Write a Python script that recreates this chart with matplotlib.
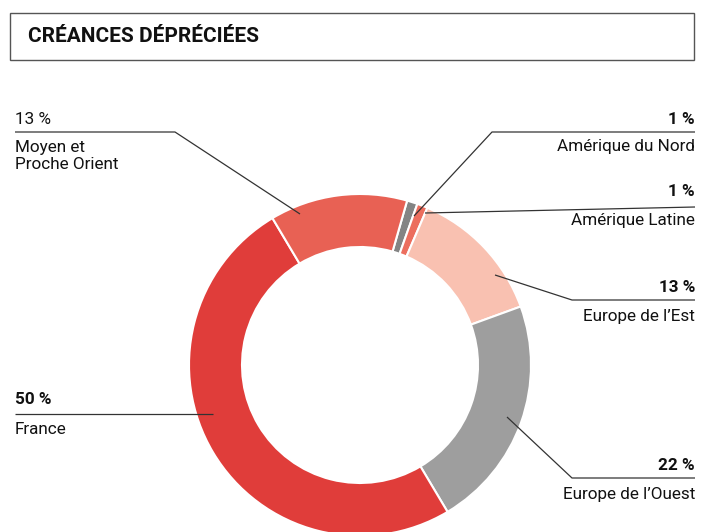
import matplotlib.pyplot as plt
from matplotlib.patches import Rectangle

W, H = 702, 532

regions = ['Amérique du Nord', 'Amérique Latine', 'Europe de l’Est',
           'Europe de l’Ouest', 'France', 'Moyen et\nProche Orient']
shares = [1, 1, 13, 22, 50, 13]
pct_labels = ['1 %', '1 %', '13 %', '22 %', '50 %', '13 %']
colors = ['#848484', '#ec6e5e', '#f9c1b1', '#9e9e9e', '#e03d3a', '#e86154']

plt.rcParams['font.family'] = ['Roboto', 'DejaVu Sans']


def Y(y):
    # pixel rows counted from the top
    return H - y


fig = plt.figure(figsize=(W / 100, H / 100), dpi=100)
ax = fig.add_axes([0, 0, 1, 1])

ax.pie(shares, colors=colors, startangle=74, counterclock=False,
       radius=171, center=(360, Y(365)), frame=True,
       wedgeprops=dict(width=53, edgecolor='white', linewidth=1.5))
ax.set_xlim(0, W)
ax.set_ylim(0, H)
ax.set_aspect('equal')
ax.axis('off')

# title box
ax.add_patch(Rectangle((10, Y(60)), 684, 47, fill=False, edgecolor='#555555', lw=1))
ax.text(28, Y(37), 'CRÉANCES DÉPRÉCIÉES', fontsize=15, fontweight='bold',
        va='center', ha='left', color='#111111')

# leader lines: (x points, y points from top)
leaders = [
    ([414, 492, 695], [216, 132, 132]),
    ([425, 695], [213, 207]),
    ([495, 572, 695], [275, 300, 300]),
    ([507, 572, 695], [417, 478, 478]),
    ([213, 15], [414, 414]),
    ([300, 175, 15], [214, 132, 132]),
]
for xs, ys in leaders:
    ax.plot(xs, [Y(v) for v in ys], color='#333333', lw=0.9, solid_capstyle='butt')

# label placement: x, ha, y of percentage, y of name, bold percentage
placement = [
    (695, 'right', 119, 147, True),
    (695, 'right', 192, 221, True),
    (695, 'right', 287, 316, True),
    (695, 'right', 465, 494, True),
    (15, 'left', 400, 429, True),
    (15, 'left', 120, 140, False),
]
for name, pct, (x, ha, yp, yn, bold) in zip(regions, pct_labels, placement):
    ax.text(x, Y(yp), pct, ha=ha, va='center', fontsize=12.3,
            fontweight='bold' if bold else 'normal', color='#111111')
    ax.text(x, Y(yn), name, ha=ha, va='top' if '\n' in name else 'center',
            fontsize=12.3, color='#111111', linespacing=1.2)

fig.savefig('out.png', dpi=100)
